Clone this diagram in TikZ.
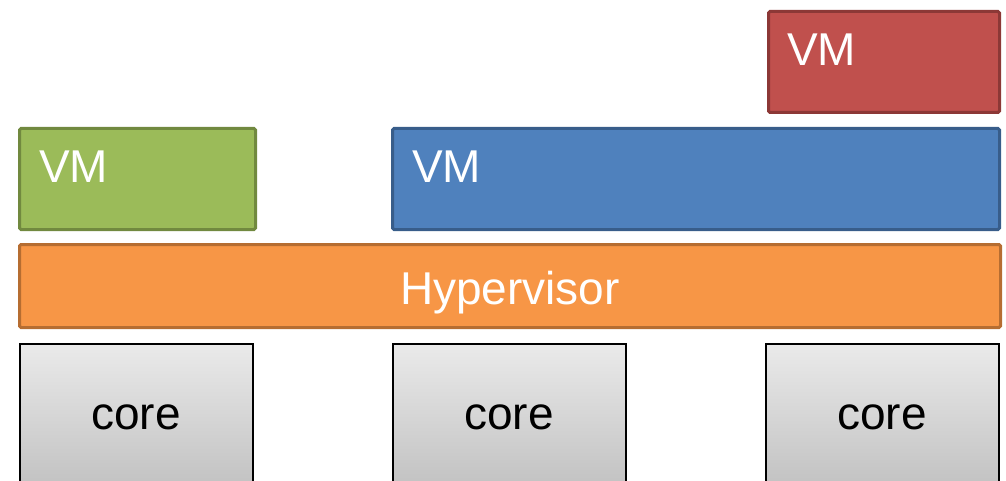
\documentclass[tikz,border=0pt]{standalone}
\usepackage{fontspec}
\setmainfont{Liberation Sans}
\definecolor{redfill}{HTML}{C0504D}
\definecolor{reddraw}{HTML}{8C3836}
\definecolor{greenfill}{HTML}{9BBB59}
\definecolor{greendraw}{HTML}{71893F}
\definecolor{bluefill}{HTML}{4F81BD}
\definecolor{bluedraw}{HTML}{385D8A}
\definecolor{orangefill}{HTML}{F79646}
\definecolor{orangedraw}{HTML}{B66D31}
\definecolor{coretop}{HTML}{EAEAEA}
\definecolor{corebot}{HTML}{BDBDBD}
\tikzset{
  box/.style={rectangle, line width=3pt, rounded corners=1.5pt, anchor=north west, inner sep=0pt},
  vmtext/.style={text=white, font=\fontsize{46}{46}\selectfont, anchor=west, inner sep=0pt},
  corebox/.style={rectangle, draw=black, line width=1.5pt, top color=coretop, bottom color=corebot, anchor=north west, inner sep=0pt, minimum width=233pt, minimum height=160pt},
  coretext/.style={text=black, font=\fontsize{46}{46}\selectfont, inner sep=0pt},
}
\begin{document}
\begin{tikzpicture}[x=1pt,y=-1pt]
\useasboundingbox (0,0) rectangle (1006,481);
\begin{scope}
\clip (0,0) rectangle (1006,481);
% cores
\node[corebox] (c1) at (19,343) {};
\node[corebox] (c2) at (392,343) {};
\node[corebox] (c3) at (765,343) {};
\node[coretext] (t1) at (136,417) {core};
\node[coretext] (t2) at (509,417) {core};
\node[coretext] (t3) at (882,417) {core};
\end{scope}
% hypervisor
\node[box, draw=orangedraw, fill=orangefill, minimum width=981pt, minimum height=83pt] (hv) at (18,243) {};
\node[coretext, text=white] (hvt) at (510,293) {Hypervisor};
% VMs
\node[box, draw=greendraw, fill=greenfill, minimum width=236pt, minimum height=101pt] (vg) at (18,127) {};
\node[vmtext] (vgt) at (39,167) {VM};
\node[box, draw=bluedraw, fill=bluefill, minimum width=607pt, minimum height=101pt] (vb) at (391,127) {};
\node[vmtext] (vbt) at (412,167) {VM};
\node[box, draw=reddraw, fill=redfill, minimum width=231pt, minimum height=101pt] (vr) at (767,10) {};
\node[vmtext] (vrt) at (787,50) {VM};
\end{tikzpicture}
\end{document}
